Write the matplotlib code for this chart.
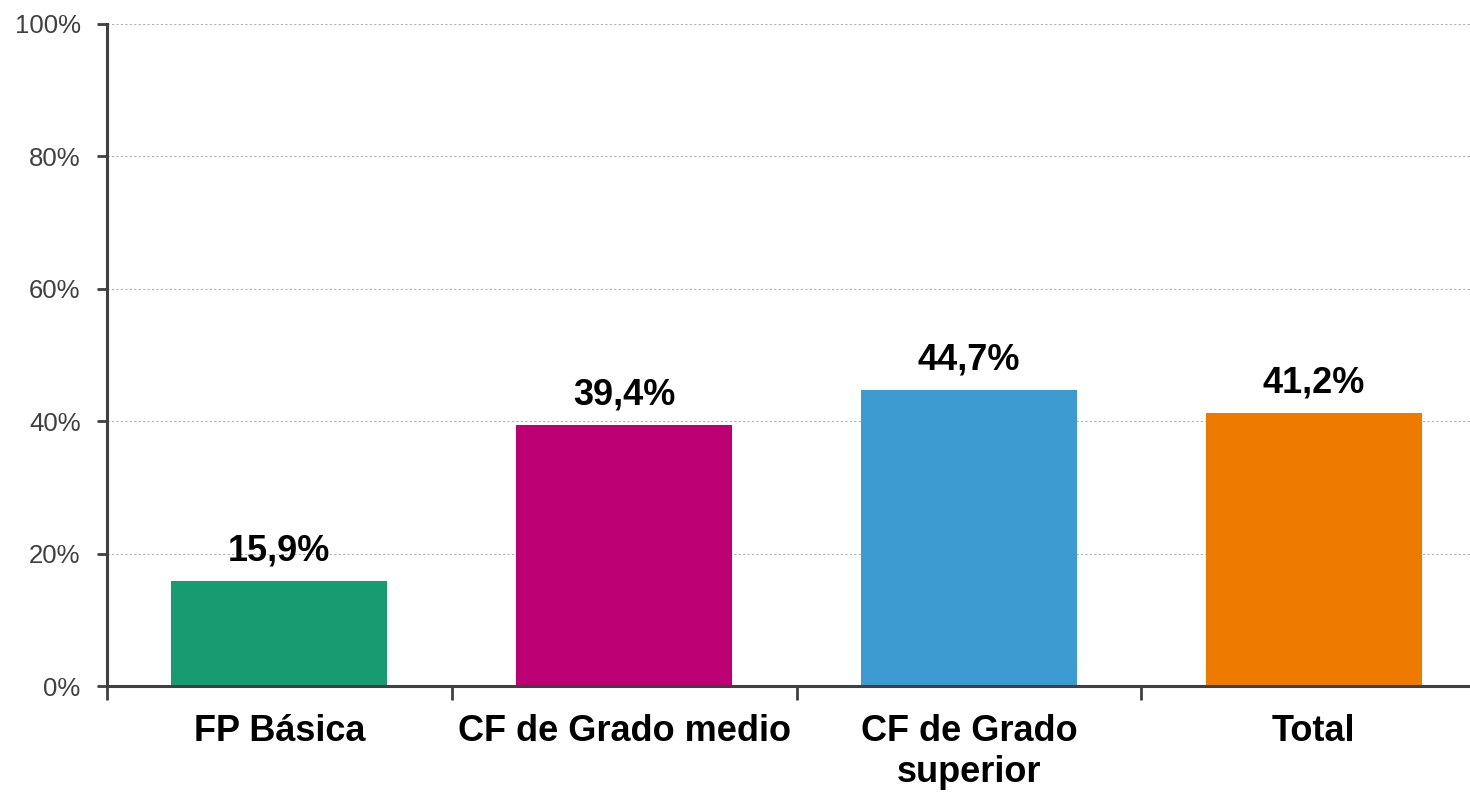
import matplotlib.pyplot as plt
import numpy as np
from matplotlib.ticker import FixedLocator, PercentFormatter

plt.rcParams['font.family'] = ['Liberation Sans', 'DejaVu Sans']

categories = ["FP Básica", "CF de Grado medio", "CF de Grado\nsuperior", "Total"]
values = [15.9, 39.4, 44.7, 41.2]
colors = ["#179C72", "#BC0074", "#3E9BD1", "#EE7B00"]
value_labels = ["15,9%", "39,4%", "44,7%", "41,2%"]

fig = plt.figure(figsize=(14.7, 7.92), dpi=100)
ax = fig.add_axes([0.0728, 0.1338, 0.9272, 0.8359])

x = np.arange(len(categories))
bars = ax.bar(x, values, width=0.626, color=colors, zorder=3)

# etiquetas de valor encima de cada barra
for xi, v, lab in zip(x, values, value_labels):
    ax.annotate(lab, (xi, v), xytext=(0, 9), textcoords="offset points",
                ha="center", va="bottom", fontsize=26, fontweight="bold", color="black")

ax.set_ylim(0, 100)
ax.set_xlim(-0.5, 3.5 - 16 / 345)
ax.set_yticks([0, 20, 40, 60, 80, 100])
ax.yaxis.set_major_formatter(PercentFormatter(decimals=0))
ax.grid(axis="y", color="#b0b0b0", linestyle=(0, (2, 2)), linewidth=0.8, zorder=0)

ax.set_xticks(x)
ax.set_xticklabels(categories, fontsize=26, fontweight="bold", linespacing=1.22)
ax.xaxis.set_minor_locator(FixedLocator([-0.5, 0.5, 1.5, 2.5]))
ax.tick_params(axis="x", which="major", length=0, pad=20)
ax.tick_params(axis="x", which="minor", length=10, width=2, color="#404040", direction="out")
ax.tick_params(axis="y", length=7, width=2, color="#404040", labelsize=18.5,
               labelcolor="#404040", pad=12)

for side in ["top", "right"]:
    ax.spines[side].set_visible(False)
for side in ["left", "bottom"]:
    ax.spines[side].set_color("#404040")
    ax.spines[side].set_linewidth(2.2)
    ax.spines[side].set_zorder(4)

fig.savefig("out.png", dpi=100)
